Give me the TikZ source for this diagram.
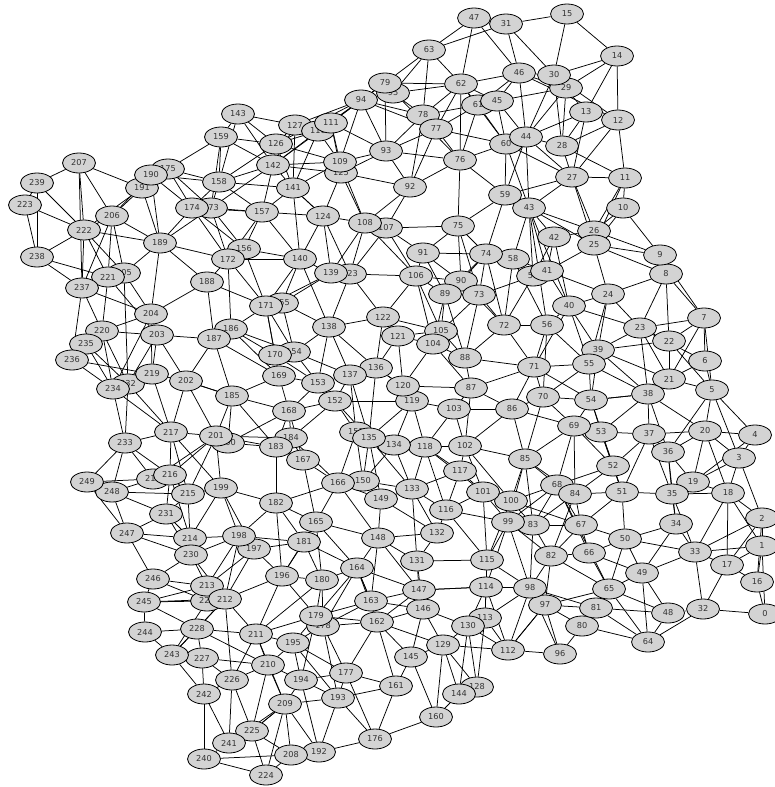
\documentclass[tikz,border=0pt]{standalone}
\usepackage{fontspec}
\setmainfont{DejaVu Sans}
\usetikzlibrary{shapes.geometric,backgrounds}
\definecolor{nodefill}{RGB}{211,211,211}
\definecolor{nodetext}{RGB}{51,51,51}
\tikzset{
  v/.style={ellipse,draw=black,line width=0.8pt,fill=nodefill,minimum width=33pt,minimum height=20pt,inner sep=0pt,text=nodetext,font=\fontsize{8.2}{9}\selectfont},
  e/.style={draw=black,line width=0.75pt}
}
\begin{document}
\begin{tikzpicture}[x=1pt,y=-1pt]
\useasboundingbox (0,0) rectangle (774,787);
% hidden (behind) nodes first
\foreach \n/\x/\y in {95/393/93,61/478/105,57/533/276,123/350/274,155/282/303,173/211/208,151/356/432,200/228/443,205/124/273,218/153/479,229/207/601,232/128/384,191/142/188,175/168/169,125/341/173,178/323/626,213/207/586,60/506/144,29/566/88,184/291/438,107/386/228,105/441/331,90/461/281,119/412/401,127/295/125,78/423/115,128/477/687,150/363/481,19/693/482,26/594/231}
  \node[v] (n\n) at (\x,\y) {\n};
\foreach \n/\x/\y in {0/765/614,1/762/546,2/762/518,3/739/458,4/755/435,5/712/390,6/705/361,7/704/318,8/666/274,9/660/255,10/623/208,11/625/178,12/618/120,13/586/112,14/617/56,15/567/14,16/757/582,17/727/565,18/728/493,20/705/431,21/669/379,22/669/341,23/640/328,24/608/294,25/594/245,27/572/177,28/562/146,30/554/75,31/506/24,32/703/609,33/695/552,34/676/524,35/672/494,36/668/452,37/649/434,38/648/394,39/598/350,40/569/306,41/547/271,42/554/237,43/529/208,44/526/137,45/497/101,46/519/73,47/474/18,48/668/613,49/642/573,50/625/539,51/622/492,52/613/466,53/601/432,54/591/400,55/589/364,56/547/325,58/513/259,59/505/195,62/461/84,63/429/50,64/648/642,65/609/589,66/589/553,67/581/525,68/557/485,69/574/426,70/543/397,71/534/367,72/504/325,73/479/295,74/486/254,75/458/226,76/460/160,77/436/129,79/385/83,80/582/626,81/596/608,82/551/556,83/533/525,84/575/494,85/525/459,86/512/409,87/471/388,88/465/358,89/445/294,91/423/253,92/410/187,93/386/151,94/361/100,96/560/654,97/545/605,98/530/588,99/508/522,100/511/501,101/483/492,102/465/446,103/454/409,104/433/344,106/416/276,108/365/223,109/340/162,110/318/131,111/331/123,112/508/650,113/485/618,114/486/587,115/487/560,116/446/510,117/460/471,118/425/447,120/403/386,121/398/336,122/383/317,124/323/216,126/276/144,129/443/645,130/468/626,131/417/561,132/437/533,133/412/489,134/394/445,135/369/438,136/376/368,137/350/375,138/329/327,139/331/273,140/300/259,141/293/188,142/273/165,143/238/114,144/459/694,145/411/657,146/423/609,147/419/590,148/378/538,149/381/499,152/335/401,153/318/383,154/294/352,156/244/249,157/262/212,158/219/182,159/221/137,160/436/717,161/396/686,162/377/622,163/371/601,164/357/568,165/316/522,166/338/483,167/303/460,168/289/411,169/279/376,170/275/355,171/266/306,172/228/259,174/192/208,176/375/739,177/346/673,179/316/616,180/322/580,181/304/542,182/276/503,183/276/447,185/232/396,186/231/329,187/214/339,188/207/282,189/160/243,190/151/175,192/319/752,193/338/698,194/301/680,195/293/643,196/282/576,197/254/549,198/239/536,199/221/488,201/216/436,202/186/381,203/157/335,204/151/314,206/112/216,207/79/163,208/291/755,209/285/704,210/268/665,211/256/634,212/225/599,214/190/538,215/188/494,216/170/475,217/171/432,219/152/374,220/102/331,221/108/277,222/84/230,223/25/205,224/266/775,225/252/731,226/232/680,227/202/658,228/197/629,230/191/555,231/166/514,233/125/443,234/113/389,235/86/344,236/72/360,237/82/288,238/37/257,239/37/183,240/204/759,241/229/743,242/204/694,243/172/655,244/145/632,245/144/602,246/153/579,247/127/533,248/112/492,249/87/482}
  \node[v] (n\n) at (\x,\y) {\n};
\begin{pgfonlayer}{background}
\foreach \a/\b in {47/63,47/62,47/46,47/31,63/31,63/79,63/95,63/78,63/62,79/62,79/95,79/94,79/93,79/76,79/110,79/142,95/62,95/78,94/127,94/111,94/109,94/93,94/78,94/77,94/126,62/46,62/78,62/77,62/61,62/45,62/60,62/76,78/61,78/77,78/93,78/92,77/93,77/92,77/60,77/76,77/61,61/45,61/60,61/76,61/46,76/93,76/60,76/59,76/92,76/75,93/109,93/125,93/92,93/111,92/125,92/108,92/107,127/126,127/110,127/141,127/142,127/111,127/143,111/110,111/109,111/125,110/142,110/141,110/109,110/126,126/142,126/109,126/141,142/109,142/141,142/125,109/125,109/141,31/15,15/30,15/14,31/46,31/30,30/14,29/14,14/13,14/12,46/30,46/29,46/45,46/44,46/12,30/12,30/44,30/28,30/13,29/44,29/45,29/28,13/44,13/28,13/27,12/28,12/27,12/11,44/28,44/60,44/27,44/59,44/43,60/27,28/27,28/11,27/11,27/59,27/43,27/26,27/25,11/26,11/25,11/10,45/60,45/44,60/59,59/43,59/75,59/74,60/43}
  \draw[e] (n\a) -- (n\b);
\foreach \a/\b in {43/42,43/26,43/25,43/41,43/58,43/57,43/56,43/40,42/26,42/41,42/57,42/40,10/26,10/25,10/9,26/9,25/9,25/41,25/24,25/8,8/24,8/7,8/23,8/22,9/7,41/40,41/58,41/57,41/24,58/72,58/56,58/57,24/40,24/39,24/23,24/55,40/56,40/39,40/55,40/23,40/71,7/23,7/22,7/6,7/5,7/21,23/22,23/39,23/21,23/38,23/6,22/21,22/39,22/5,39/55,39/21,39/38,39/54,56/72,56/71,56/55,56/70,71/55,71/70,71/72,71/54,55/54,55/70,55/38,6/21,6/5,21/5,21/38,38/54,38/37,58/74,57/72,57/73}
  \draw[e] (n\a) -- (n\b);
\foreach \a/\b in {70/54,70/69,70/86,54/38,54/69,54/53,54/51,38/36,38/20,38/53,5/20,5/4,5/3,5/36,86/85,86/69,69/53,69/68,69/84,69/85,69/52,53/37,53/52,53/51,37/20,37/36,37/51,37/35,37/52,20/4,20/3,20/19,20/18,20/36,4/3,4/19,36/19,36/35,36/34,3/19,3/18,3/2,85/68,85/100,85/99,85/83,85/84,52/51,52/84,52/68,68/84,68/100,68/99,68/83,68/67,68/66,68/65,84/51,84/67,84/82,84/83,51/35,51/50,51/67,35/19,35/18,35/34,35/33,19/18,18/2,18/1,18/17,18/33,100/99,100/83,100/67,99/83,99/82,99/98,83/67,83/82,83/98,67/50,67/66,67/82,34/50,34/33,34/49,2/1,2/17,2/16,2/33,50/66,50/49,50/33,50/65,33/17,33/1,33/49,33/32,1/17,1/16,1/0,82/66,82/98,82/97,82/65,66/65,66/49,17/16,49/65,49/48,49/64,16/0}
  \draw[e] (n\a) -- (n\b);
\foreach \a/\b in {98/97,98/96,98/112,98/81,97/81,97/80,97/96,97/112,65/81,65/48,65/64,65/97,81/80,81/48,81/64,80/64,80/96,48/64,48/32,32/64,32/0,32/17,112/96}
  \draw[e] (n\a) -- (n\b);
\foreach \a/\b in {157/124,157/140,124/108,124/140,124/139,124/123,124/141,108/107,108/139,108/123,108/106,107/75,107/91,107/123,107/106,75/91,75/74,75/90,75/73,140/139,140/171,140/155,140/138,140/172,139/123,139/155,139/171,123/106,123/138,123/122,91/106,91/74,91/89,91/73,74/90,74/73,74/89,74/72,106/89,106/122,106/104,106/105,106/90,90/89,90/73,90/72,89/105,89/104,89/88,73/72,73/88,73/105,155/171,155/138,155/154,171/170,171/169,171/154,122/138,122/121,122/105,122/136,138/154,138/137,138/136,138/153,121/105,121/104,121/120,121/136,105/104,105/88,104/88,104/120,104/87,88/87,88/72,154/170,154/153,154/137,170/169,169/153,136/137,136/120,137/153,137/152,120/87,120/119}
  \draw[e] (n\a) -- (n\b);
\foreach \a/\b in {223/238,223/222,239/238,206/222,206/189,206/221,206/205,206/237,206/191,222/237,222/238,222/189,222/205,222/221,189/174,189/173,189/172,189/205,189/204,189/191,189/190,189/188,238/237,238/221,174/173,174/156,174/172,173/157,173/172,173/156,156/172,156/171,156/140,156/157,157/172,157/174,172/188,172/186,172/171,221/205,221/237,221/220,221/203,205/204,205/232,188/204,188/187,188/171,237/220,237/236,237/204,204/203,204/220,204/219,204/234,220/203,220/235,220/234,220/232,186/187,186/171,186/170,203/187,203/219,203/202,203/232,187/202,187/185,187/169,235/236,235/234,235/232,236/234,236/219,219/202,219/232,219/234,202/185}
  \draw[e] (n\a) -- (n\b);
\foreach \a/\b in {234/233,232/233,234/217,185/201,185/200,217/233,217/201,217/216,217/215,217/199,233/249,233/248,233/216,233/218,201/200,201/216,201/215,201/199,201/218,249/248,249/247,249/218,248/218,248/215,248/247,248/231,216/215,216/231,216/214,215/199,215/214,215/231,199/198,199/214,199/197,231/247,231/214,231/230,247/214,247/246,247/230,214/198,214/230,198/197,198/230,198/212,230/246,230/213,230/212,246/213,246/245}
  \draw[e] (n\a) -- (n\b);
\foreach \a/\b in {152/168,152/151,152/135,152/119,152/184,152/153,168/184,168/183,168/153,168/167,119/103,119/135,119/134,119/118,103/87,103/86,103/102,103/118,86/102,151/135,151/134,151/166,151/150,135/134,135/150,135/149,135/133,134/118,134/133,134/150,118/102,118/117,118/133,118/116,118/101,102/117,102/101,102/85,102/100,184/183,184/167,184/166,183/167,183/182,167/166,167/165,117/133,117/116,117/101,166/150,166/149,166/165,166/182,166/148,150/149,150/133,133/149,133/116,133/132,133/131,101/116,101/100,101/99,101/115,149/148,149/132,182/165,182/181,182/196,116/132,116/115,116/99,165/181,165/148,165/164,165/196,132/148,132/131,148/164,148/131,148/147,181/196,181/180,131/115,131/147,131/146,115/114,115/99,164/180,164/163,164/147,196/180,114/147,114/113}
  \draw[e] (n\a) -- (n\b);
\foreach \a/\b in {245/244,245/212,245/228,245/229,244/228,244/243,243/228,243/227,243/212,243/229,243/242,228/212,228/227,228/211,228/210,227/226,227/242,227/210,212/211,212/226,211/226,211/210,226/242,226/225,226/210,242/241,242/240,225/241,225/224,225/210,241/240,241/226,240/224,240/208,224/208}
  \draw[e] (n\a) -- (n\b);
\foreach \a/\b in {180/179,180/178,163/179,163/162,163/146,163/147,147/146,147/114,146/162,146/145,146/129,146/130,114/130,114/112,179/178,179/211,179/195,179/162,179/194,178/162,178/195,178/177,178/193,162/177,162/145,162/161,162/129,113/130,113/112,113/128,130/129,130/144,130/128,130/112,129/145,129/144,129/160,129/128,129/112,145/161,145/160,211/195,211/209,195/210,195/194,195/177,195/193,210/194,210/209,177/161,177/193,177/176,177/194,194/193,194/209,194/192,161/176,161/193,144/160,144/128,193/209,193/192,193/176,209/208,209/192,209/225,209/224,176/192,176/160,208/192,208/225}
  \draw[e] (n\a) -- (n\b);
\foreach \a/\b in {143/159,143/158,143/126,143/142,159/175,159/158,159/126,159/142,159/173,175/190,175/191,175/158,175/174,175/173,190/191,190/158,190/206,190/174,191/207,191/222,158/142,158/141,158/157,158/174,158/173,158/126,142/173,142/157,141/157,141/124,141/140,125/124,125/108,109/108,207/239,207/222,207/206,207/237,239/223,239/222}
  \draw[e] (n\a) -- (n\b);
\foreach \a/\b in {87/86,87/102,87/103,88/71,86/71,87/71,70/85,120/136,136/135,137/151,137/135,153/152,169/168,170/153,168/200,183/200,201/184,201/183,185/168,185/183,185/169,186/169,186/154,202/201,202/217,219/217,232/217,185/202,182/199,182/198,181/198,197/181,197/196,197/212,197/213,198/213,212/213,212/196,229/212,229/213,229/246,245/213,196/211,196/179,180/211,180/165,181/164,164/179,164/178,164/162,164/163,163/178,148/163,147/162,115/113,114/98,115/98,99/114,113/98,112/97,241/209,225/209,100/115}
  \draw[e] (n\a) -- (n\b);
\end{pgfonlayer}
\end{tikzpicture}
\end{document}
